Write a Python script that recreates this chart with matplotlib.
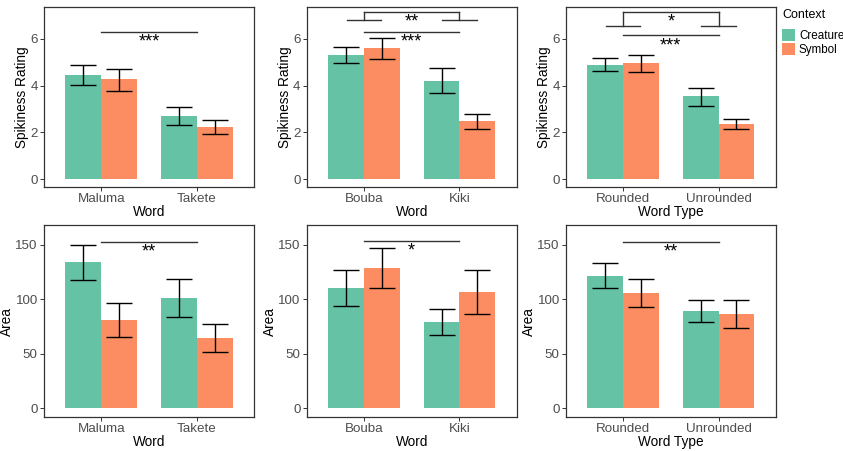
import numpy as np
import matplotlib
matplotlib.use('Agg')
import matplotlib.pyplot as plt
from matplotlib.patches import Patch

plt.rcParams['font.family'] = ['Liberation Sans', 'DejaVu Sans']

# categories per column
words = [["Maluma", "Takete"], ["Bouba", "Kiki"], ["Rounded", "Unrounded"]]
xtitles = ["Word", "Word", "Word Type"]
contexts = ["Creature", "Symbol"]
colors = ["#66C2A5", "#FC8D62"]

# spikiness rating: mean, lower, upper  [column][word]
spike_creature = [[4.45, 2.72], [5.30, 4.22], [4.90, 3.55]]
spike_creature_lo = [[4.02, 2.33], [4.95, 3.70], [4.63, 3.15]]
spike_creature_hi = [[4.90, 3.10], [5.65, 4.75], [5.20, 3.90]]
spike_symbol = [[4.28, 2.25], [5.63, 2.47], [4.95, 2.35]]
spike_symbol_lo = [[3.77, 1.95], [5.15, 2.15], [4.60, 2.13]]
spike_symbol_hi = [[4.73, 2.55], [6.05, 2.78], [5.30, 2.57]]

# area
area_creature = [[134, 101], [110.5, 79], [121, 89]]
area_creature_lo = [[118, 84], [94, 67.5], [110.5, 79.5]]
area_creature_hi = [[150, 118.5], [127, 91], [133, 99.5]]
area_symbol = [[81, 65], [129, 107], [106, 86.5]]
area_symbol_lo = [[65.5, 51.5], [110.5, 87], [93, 74]]
area_symbol_hi = [[96.5, 77], [147, 127], [118.5, 99]]

# significance: (height of line, label)
spike_sig = [(6.31, "***"), (6.30, "***"), (6.16, "***")]
spike_bracket = [None, (6.81, 7.17, "**"), (6.56, 7.17, "*")]
area_sig = [(153, "**"), (154, "*"), (153, "**")]

W, H = 843, 451
fig = plt.figure(figsize=(W / 100, H / 100), dpi=100)

col_x = [(44, 254), (306.7, 516.7), (566, 775.7)]
rows = [(7, 187), (225.3, 416.7)]

def make_ax(r, c):
    x0, x1 = col_x[c]
    y0, y1 = rows[r]
    return fig.add_axes([x0 / W, 1 - y1 / H, (x1 - x0) / W, (y1 - y0) / H])

def style(ax):
    for s in ax.spines.values():
        s.set_color("#333333")
        s.set_linewidth(0.9)
    ax.tick_params(axis='both', colors="#333333", length=3, width=0.7,
                   labelsize=9.6, labelcolor="#4D4D4D", pad=1.5)

bw = 0.375
xs = np.array([1, 2])

def draw(ax, c, mc, lo_c, hi_c, ms, lo_s, hi_s, sig, bracket, ylim, yticks, ylabel, txt_off):
    for k, (m, lo, hi) in enumerate([(mc, lo_c, hi_c), (ms, lo_s, hi_s)]):
        pos = xs + (k - 0.5) * bw
        ax.bar(pos, m[c], width=bw, color=colors[k], zorder=2)
        m_ = np.array(m[c])
        err = [m_ - np.array(lo[c]), np.array(hi[c]) - m_]
        ax.errorbar(pos, m_, yerr=err, fmt='none', ecolor='black',
                    elinewidth=1, capsize=9.5, capthick=1, zorder=3)
    h, lab = sig
    ax.plot([1, 2], [h, h], color="#333333", lw=1, zorder=4)
    ax.text(1.5, h - txt_off, lab, ha='center', va='top', fontsize=13, zorder=4)
    if bracket is not None:
        lo_h, hi_h, blab = bracket
        for xc in xs:
            ax.plot([xc - 0.18, xc + 0.18], [lo_h, lo_h], color="#333333", lw=1)
            ax.plot([xc, xc], [lo_h, hi_h], color="#333333", lw=1)
        ax.plot([1, 2], [hi_h, hi_h], color="#333333", lw=1)
        ax.text(1.5, hi_h - txt_off, blab, ha='center', va='top', fontsize=13)
    ax.set_xlim(0.4, 2.6)
    ax.set_ylim(*ylim)
    ax.set_xticks(xs)
    ax.set_xticklabels(words[c])
    ax.set_yticks(yticks)
    ax.set_ylabel(ylabel, fontsize=9.8, labelpad=1)
    ax.set_xlabel(xtitles[c], fontsize=9.8, labelpad=0)
    style(ax)

for c in range(3):
    ax = make_ax(0, c)
    draw(ax, c, spike_creature, spike_creature_lo, spike_creature_hi,
         spike_symbol, spike_symbol_lo, spike_symbol_hi,
         spike_sig[c], spike_bracket[c], (-0.34, 7.37), [0, 2, 4, 6],
         "Spikiness Rating", 0.08)
    ax = make_ax(1, c)
    draw(ax, c, area_creature, area_creature_lo, area_creature_hi,
         area_symbol, area_symbol_lo, area_symbol_hi,
         area_sig[c], None, (-7.7, 168), [0, 50, 100, 150],
         "Area", 2.0)

handles = [Patch(facecolor=colors[i], edgecolor='none') for i in range(2)]
leg = fig.legend(handles, contexts, title="Context", loc='upper left',
                 bbox_to_anchor=(782 / W, 1 - 9 / H), frameon=False,
                 fontsize=8.4, title_fontsize=9.0, handlelength=1.15, handleheight=1.15,
                 handletextpad=0.3, labelspacing=0.1, alignment='left', borderpad=0,
                 borderaxespad=0)
leg._legend_box.sep = 6

fig.savefig("out.png", dpi=100)
